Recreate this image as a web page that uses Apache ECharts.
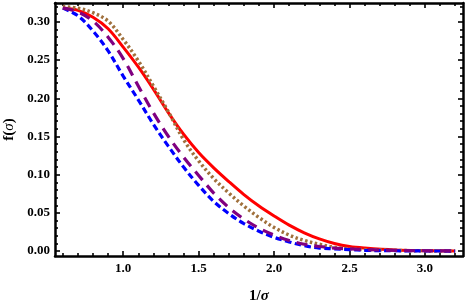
<!DOCTYPE html>
<html>
<head>
<meta charset="utf-8">
<script src="https://cdn.jsdelivr.net/npm/echarts@6/dist/echarts.min.js"></script>
<style>html,body{margin:0;padding:0;background:#fff}#c{width:469px;height:303px}</style>
</head>
<body>
<div id="c"></div>
<script>
var xs = [0.6,0.7,0.8,0.9,1.0,1.1,1.2,1.3,1.4,1.5,1.6,1.7,1.8,1.9,2.0,2.1,2.2,2.3,2.4,2.5,2.6,2.8,3.0,3.2];
var redVals    = [0.318,0.315,0.306,0.291,0.267,0.241,0.212,0.181,0.153,0.129,0.109,0.091,0.074,0.059,0.046,0.034,0.024,0.016,0.010,0.006,0.004,0.0015,0.0006,0.0002];
var brownVals  = [0.320,0.318,0.312,0.301,0.277,0.249,0.216,0.182,0.146,0.118,0.095,0.076,0.059,0.044,0.031,0.021,0.014,0.009,0.005,0.003,0.002,0.001,0.0003,0.0001];
var purpleVals = [0.318,0.313,0.301,0.280,0.252,0.216,0.181,0.150,0.123,0.099,0.076,0.057,0.042,0.030,0.021,0.014,0.009,0.006,0.004,0.003,0.002,0.001,0.0005,0.0002];
var blueVals   = [0.318,0.308,0.288,0.262,0.229,0.198,0.166,0.137,0.110,0.086,0.065,0.049,0.036,0.026,0.018,0.012,0.007,0.004,0.003,0.002,0.001,0.0005,0.0002,0.0001];
var xMajor = [1.0,1.5,2.0,2.5,3.0];
var xMinor = [0.6,0.7,0.8,0.9,1.1,1.2,1.3,1.4,1.6,1.7,1.8,1.9,2.1,2.2,2.3,2.4,2.6,2.7,2.8,2.9,3.1,3.2];
var yMajor = [0.00,0.05,0.10,0.15,0.20,0.25,0.30];
var yMinor = [0.01,0.02,0.03,0.04,0.06,0.07,0.08,0.09,0.11,0.12,0.13,0.14,0.16,0.17,0.18,0.19,0.21,0.22,0.23,0.24,0.26,0.27,0.28,0.29,0.31,0.32];

var FONT = 'Liberation Serif';
function pts(v){ return xs.map(function(x,i){ return [x, v[i]]; }); }
var XMIN = 0.548, XMAX = 3.252, YMIN = -0.0064, YMAX = 0.3247;

function xAx(pos, ticks, len, line, labels){
  return {
    type:'value', position:pos, min:XMIN, max:XMAX,
    axisLine:{show:line, onZero:false, lineStyle:{color:'#000', width:2.5}},
    axisTick:{show:true, inside:true, length:len, customValues:ticks, lineStyle:{color:'#000', width:1.6}},
    axisLabel:{show:labels, customValues:ticks, margin:6, color:'#000', fontFamily:FONT, fontWeight:'bold', fontSize:13,
      formatter:function(v){return v.toFixed(1);}},
    splitLine:{show:false}
  };
}
function yAx(pos, ticks, len, line, labels){
  return {
    type:'value', position:pos, min:YMIN, max:YMAX,
    axisLine:{show:line, onZero:false, lineStyle:{color:'#000', width:2.5}},
    axisTick:{show:true, inside:true, length:len, customValues:ticks, lineStyle:{color:'#000', width:1.6}},
    axisLabel:{show:labels, customValues:ticks, margin:5, color:'#000', fontFamily:FONT, fontWeight:'bold', fontSize:13,
      formatter:function(v){return v.toFixed(2);}},
    splitLine:{show:false}
  };
}

var xAxes = [xAx('bottom', xMajor, 5, true, true), xAx('bottom', xMinor, 3, false, false),
             xAx('top', xMajor, 5, true, false), xAx('top', xMinor, 3, false, false)];
xAxes[0].name = '{n|1/}{i|σ}';
xAxes[0].nameLocation = 'middle';
xAxes[0].nameGap = 33;
xAxes[0].nameTextStyle = {rich:{n:{fontFamily:FONT, fontWeight:'bold', fontSize:15, color:'#000'}, i:{fontFamily:FONT, fontStyle:'italic', fontWeight:'bold', fontSize:15, color:'#000'}}};
var yAxes = [yAx('left', yMajor, 5, true, true), yAx('left', yMinor, 3, false, false),
             yAx('right', yMajor, 5, true, false), yAx('right', yMinor, 3, false, false)];
yAxes[0].name = '{n|f(}{i|σ}{n|)}';
yAxes[0].nameLocation = 'middle';
yAxes[0].nameGap = 36;
yAxes[0].nameRotate = 90;
yAxes[0].nameTextStyle = {rich:{n:{fontFamily:FONT, fontWeight:'bold', fontSize:15, color:'#000'}, i:{fontFamily:FONT, fontStyle:'italic', fontSize:15, color:'#000'}}};

function ser(name, vals, color, type, width){
  return {name:name, type:'line', data:pts(vals), smooth:0.35, showSymbol:false, symbol:'none',
    xAxisIndex:0, yAxisIndex:0, lineStyle:{color:color, width:width, type:type}, animation:false};
}
var chart = echarts.init(document.getElementById('c'), null, {renderer:'canvas'});
chart.setOption({
  animation:false,
  backgroundColor:'#fff',
  grid:{left:55, right:6, top:3, bottom:47, containLabel:false, outerBoundsMode:'none'},
  xAxis:xAxes,
  yAxis:yAxes,
  series:[
    ser('red', redVals, '#ff0000', 'solid', 3),
    ser('brown', brownVals, '#a0703c', [2.5,2.5], 3.5),
    ser('blue', blueVals, '#0000ff', [6.5,3.5], 3.2),
    ser('purple', purpleVals, '#800080', [11,7], 3.2)
  ]
});
</script>
</body>
</html>
